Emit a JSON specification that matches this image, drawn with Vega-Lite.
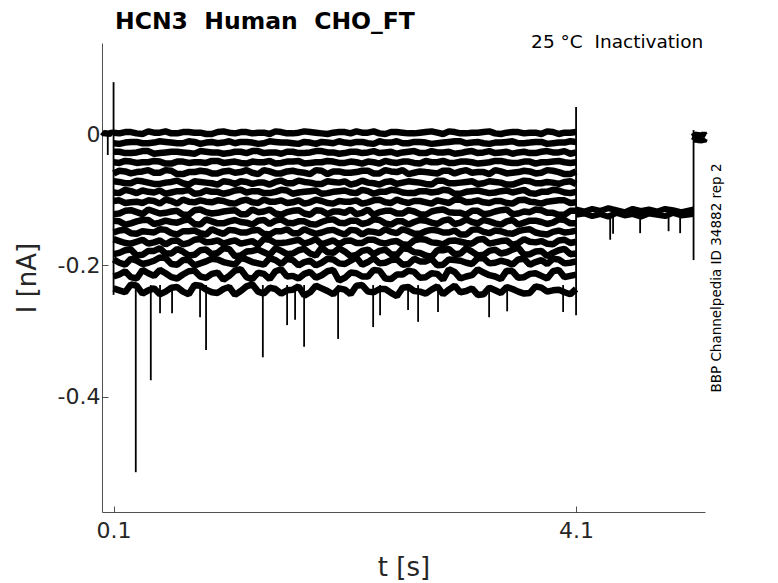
{
  "$schema": "https://vega.github.io/schema/vega-lite/v6.json",
  "width": 603,
  "height": 469,
  "autosize": {"type": "none"},
  "padding": {"left": 102, "top": 43, "right": 73, "bottom": 71},
  "background": "white",
  "title": {
    "text": "HCN3\u00a0\u00a0Human\u00a0\u00a0CHO_FT",
    "anchor": "start",
    "frame": "group",
    "dx": 13,
    "offset": -1,
    "font": "DejaVu Sans",
    "fontSize": 23.5,
    "fontWeight": "bold",
    "color": "#000000"
  },
  "datasets": {
    "tr": [
      {"t":0.1,"a":0.002,"b":-0.014,"c":-0.027,"d":-0.043,"e":-0.060,"f":-0.072,"g":-0.089,"h":-0.102,"i":-0.122,"j":-0.132,"k":-0.150,"l":-0.160,"m":-0.183,"n":-0.191,"o":-0.217,"p":-0.235},
      {"t":0.15,"a":0.001,"b":-0.015,"c":-0.027,"d":-0.044,"e":-0.056,"f":-0.073,"g":-0.090,"h":-0.101,"i":-0.121,"j":-0.133,"k":-0.147,"l":-0.163,"m":-0.181,"n":-0.196,"o":-0.214,"p":-0.238},
      {"t":0.2,"a":0.003,"b":-0.013,"c":-0.029,"d":-0.041,"e":-0.057,"f":-0.075,"g":-0.085,"h":-0.105,"i":-0.117,"j":-0.138,"k":-0.146,"l":-0.166,"m":-0.177,"n":-0.199,"o":-0.209,"p":-0.241},
      {"t":0.25,"a":0.003,"b":-0.012,"c":-0.029,"d":-0.042,"e":-0.060,"f":-0.075,"g":-0.087,"h":-0.104,"i":-0.116,"j":-0.136,"k":-0.151,"l":-0.167,"m":-0.176,"n":-0.190,"o":-0.218,"p":-0.229},
      {"t":0.3,"a":0.001,"b":-0.012,"c":-0.028,"d":-0.044,"e":-0.058,"f":-0.071,"g":-0.090,"h":-0.103,"i":-0.119,"j":-0.133,"k":-0.152,"l":-0.164,"m":-0.185,"n":-0.193,"o":-0.220,"p":-0.231},
      {"t":0.35,"a":0.000,"b":-0.014,"c":-0.026,"d":-0.043,"e":-0.057,"f":-0.072,"g":-0.086,"h":-0.105,"i":-0.122,"j":-0.131,"k":-0.148,"l":-0.161,"m":-0.184,"n":-0.198,"o":-0.207,"p":-0.243},
      {"t":0.4,"a":0.004,"b":-0.014,"c":-0.026,"d":-0.043,"e":-0.055,"f":-0.074,"g":-0.088,"h":-0.101,"i":-0.115,"j":-0.131,"k":-0.149,"l":-0.167,"m":-0.178,"n":-0.196,"o":-0.212,"p":-0.238},
      {"t":0.45,"a":0.002,"b":-0.013,"c":-0.030,"d":-0.041,"e":-0.059,"f":-0.076,"g":-0.089,"h":-0.102,"i":-0.118,"j":-0.137,"k":-0.150,"l":-0.165,"m":-0.178,"n":-0.193,"o":-0.216,"p":-0.235},
      {"t":0.5,"a":0.002,"b":-0.011,"c":-0.029,"d":-0.042,"e":-0.059,"f":-0.076,"g":-0.086,"h":-0.106,"i":-0.121,"j":-0.135,"k":-0.145,"l":-0.162,"m":-0.174,"n":-0.188,"o":-0.207,"p":-0.244},
      {"t":0.55,"a":0.004,"b":-0.012,"c":-0.028,"d":-0.045,"e":-0.055,"f":-0.074,"g":-0.091,"h":-0.100,"i":-0.120,"j":-0.132,"k":-0.146,"l":-0.168,"m":-0.182,"n":-0.189,"o":-0.212,"p":-0.240},
      {"t":0.6,"a":0.001,"b":-0.013,"c":-0.027,"d":-0.045,"e":-0.056,"f":-0.073,"g":-0.089,"h":-0.102,"i":-0.118,"j":-0.134,"k":-0.151,"l":-0.163,"m":-0.182,"n":-0.198,"o":-0.218,"p":-0.234},
      {"t":0.65,"a":0.001,"b":-0.014,"c":-0.027,"d":-0.042,"e":-0.061,"f":-0.071,"g":-0.087,"h":-0.106,"i":-0.117,"j":-0.135,"k":-0.153,"l":-0.162,"m":-0.175,"n":-0.199,"o":-0.220,"p":-0.233},
      {"t":0.7,"a":0.003,"b":-0.014,"c":-0.028,"d":-0.042,"e":-0.061,"f":-0.075,"g":-0.087,"h":-0.100,"i":-0.123,"j":-0.132,"k":-0.148,"l":-0.168,"m":-0.179,"n":-0.192,"o":-0.214,"p":-0.240},
      {"t":0.75,"a":0.003,"b":-0.011,"c":-0.029,"d":-0.044,"e":-0.058,"f":-0.077,"g":-0.085,"h":-0.103,"i":-0.123,"j":-0.130,"k":-0.148,"l":-0.166,"m":-0.185,"n":-0.192,"o":-0.209,"p":-0.244},
      {"t":0.8,"a":0.002,"b":-0.012,"c":-0.030,"d":-0.043,"e":-0.058,"f":-0.072,"g":-0.091,"h":-0.104,"i":-0.116,"j":-0.137,"k":-0.147,"l":-0.161,"m":-0.184,"n":-0.200,"o":-0.208,"p":-0.230},
      {"t":0.85,"a":0.002,"b":-0.015,"c":-0.026,"d":-0.043,"e":-0.056,"f":-0.073,"g":-0.090,"h":-0.101,"i":-0.115,"j":-0.138,"k":-0.151,"l":-0.160,"m":-0.177,"n":-0.197,"o":-0.217,"p":-0.231},
      {"t":0.9,"a":0.000,"b":-0.013,"c":-0.027,"d":-0.044,"e":-0.057,"f":-0.074,"g":-0.086,"h":-0.103,"i":-0.119,"j":-0.130,"k":-0.153,"l":-0.165,"m":-0.176,"n":-0.194,"o":-0.219,"p":-0.237},
      {"t":0.95,"a":0.000,"b":-0.012,"c":-0.028,"d":-0.041,"e":-0.060,"f":-0.075,"g":-0.088,"h":-0.104,"i":-0.121,"j":-0.133,"k":-0.145,"l":-0.164,"m":-0.183,"n":-0.190,"o":-0.213,"p":-0.241},
      {"t":1.0,"a":0.003,"b":-0.014,"c":-0.028,"d":-0.041,"e":-0.060,"f":-0.077,"g":-0.088,"h":-0.101,"i":-0.120,"j":-0.136,"k":-0.149,"l":-0.162,"m":-0.181,"n":-0.191,"o":-0.211,"p":-0.242},
      {"t":1.05,"a":0.004,"b":-0.013,"c":-0.030,"d":-0.044,"e":-0.057,"f":-0.072,"g":-0.091,"h":-0.102,"i":-0.118,"j":-0.136,"k":-0.152,"l":-0.167,"m":-0.174,"n":-0.195,"o":-0.222,"p":-0.236},
      {"t":1.1,"a":0.002,"b":-0.011,"c":-0.029,"d":-0.043,"e":-0.056,"f":-0.073,"g":-0.089,"h":-0.105,"i":-0.117,"j":-0.133,"k":-0.146,"l":-0.164,"m":-0.175,"n":-0.197,"o":-0.216,"p":-0.233},
      {"t":1.15,"a":0.001,"b":-0.014,"c":-0.027,"d":-0.042,"e":-0.059,"f":-0.076,"g":-0.086,"h":-0.106,"i":-0.116,"j":-0.131,"k":-0.147,"l":-0.162,"m":-0.186,"n":-0.199,"o":-0.208,"p":-0.245},
      {"t":1.2,"a":0.003,"b":-0.012,"c":-0.027,"d":-0.044,"e":-0.058,"f":-0.072,"g":-0.085,"h":-0.102,"i":-0.122,"j":-0.134,"k":-0.150,"l":-0.167,"m":-0.185,"n":-0.189,"o":-0.206,"p":-0.239},
      {"t":1.25,"a":0.003,"b":-0.012,"c":-0.029,"d":-0.045,"e":-0.055,"f":-0.073,"g":-0.089,"h":-0.100,"i":-0.122,"j":-0.135,"k":-0.150,"l":-0.165,"m":-0.179,"n":-0.191,"o":-0.218,"p":-0.232},
      {"t":1.3,"a":0.001,"b":-0.013,"c":-0.026,"d":-0.042,"e":-0.059,"f":-0.076,"g":-0.087,"h":-0.104,"i":-0.115,"j":-0.138,"k":-0.147,"l":-0.163,"m":-0.178,"n":-0.195,"o":-0.221,"p":-0.229},
      {"t":1.35,"a":0.002,"b":-0.015,"c":-0.026,"d":-0.043,"e":-0.061,"f":-0.074,"g":-0.087,"h":-0.105,"i":-0.119,"j":-0.132,"k":-0.146,"l":-0.169,"m":-0.176,"n":-0.197,"o":-0.211,"p":-0.240},
      {"t":1.4,"a":0.002,"b":-0.014,"c":-0.029,"d":-0.043,"e":-0.055,"f":-0.074,"g":-0.090,"h":-0.100,"i":-0.118,"j":-0.131,"k":-0.152,"l":-0.160,"m":-0.180,"n":-0.199,"o":-0.213,"p":-0.243},
      {"t":1.45,"a":0.000,"b":-0.011,"c":-0.028,"d":-0.041,"e":-0.057,"f":-0.077,"g":-0.090,"h":-0.103,"i":-0.115,"j":-0.137,"k":-0.153,"l":-0.161,"m":-0.184,"n":-0.189,"o":-0.221,"p":-0.234},
      {"t":1.5,"a":0.004,"b":-0.012,"c":-0.028,"d":-0.045,"e":-0.060,"f":-0.073,"g":-0.088,"h":-0.103,"i":-0.121,"j":-0.132,"k":-0.148,"l":-0.166,"m":-0.174,"n":-0.192,"o":-0.209,"p":-0.236},
      {"t":1.55,"a":0.003,"b":-0.013,"c":-0.030,"d":-0.044,"e":-0.060,"f":-0.071,"g":-0.085,"h":-0.101,"i":-0.123,"j":-0.130,"k":-0.148,"l":-0.166,"m":-0.178,"n":-0.198,"o":-0.206,"p":-0.243},
      {"t":1.6,"a":0.001,"b":-0.013,"c":-0.027,"d":-0.042,"e":-0.057,"f":-0.075,"g":-0.086,"h":-0.105,"i":-0.119,"j":-0.135,"k":-0.145,"l":-0.165,"m":-0.183,"n":-0.190,"o":-0.217,"p":-0.238},
      {"t":1.65,"a":0.001,"b":-0.014,"c":-0.027,"d":-0.042,"e":-0.056,"f":-0.075,"g":-0.091,"h":-0.104,"i":-0.117,"j":-0.136,"k":-0.151,"l":-0.163,"m":-0.182,"n":-0.192,"o":-0.216,"p":-0.237},
      {"t":1.7,"a":0.002,"b":-0.015,"c":-0.029,"d":-0.041,"e":-0.058,"f":-0.071,"g":-0.089,"h":-0.101,"i":-0.116,"j":-0.133,"k":-0.151,"l":-0.161,"m":-0.177,"n":-0.200,"o":-0.220,"p":-0.232},
      {"t":1.75,"a":0.004,"b":-0.012,"c":-0.029,"d":-0.045,"e":-0.059,"f":-0.073,"g":-0.088,"h":-0.106,"i":-0.121,"j":-0.133,"k":-0.145,"l":-0.167,"m":-0.175,"n":-0.195,"o":-0.213,"p":-0.246},
      {"t":1.8,"a":0.003,"b":-0.013,"c":-0.028,"d":-0.044,"e":-0.061,"f":-0.074,"g":-0.087,"h":-0.104,"i":-0.123,"j":-0.137,"k":-0.149,"l":-0.164,"m":-0.182,"n":-0.193,"o":-0.210,"p":-0.241},
      {"t":1.85,"a":0.002,"b":-0.015,"c":-0.026,"d":-0.043,"e":-0.055,"f":-0.076,"g":-0.086,"h":-0.100,"i":-0.116,"j":-0.138,"k":-0.152,"l":-0.160,"m":-0.185,"n":-0.200,"o":-0.219,"p":-0.231},
      {"t":1.9,"a":0.001,"b":-0.012,"c":-0.026,"d":-0.043,"e":-0.056,"f":-0.076,"g":-0.091,"h":-0.102,"i":-0.117,"j":-0.134,"k":-0.150,"l":-0.168,"m":-0.173,"n":-0.196,"o":-0.215,"p":-0.235},
      {"t":1.95,"a":0.000,"b":-0.013,"c":-0.028,"d":-0.041,"e":-0.061,"f":-0.072,"g":-0.090,"h":-0.105,"i":-0.122,"j":-0.131,"k":-0.147,"l":-0.165,"m":-0.180,"n":-0.190,"o":-0.209,"p":-0.239},
      {"t":2.0,"a":0.002,"b":-0.014,"c":-0.028,"d":-0.042,"e":-0.057,"f":-0.073,"g":-0.088,"h":-0.106,"i":-0.118,"j":-0.130,"k":-0.146,"l":-0.162,"m":-0.181,"n":-0.191,"o":-0.207,"p":-0.244},
      {"t":2.05,"a":0.003,"b":-0.011,"c":-0.030,"d":-0.044,"e":-0.057,"f":-0.074,"g":-0.087,"h":-0.102,"i":-0.118,"j":-0.135,"k":-0.150,"l":-0.168,"m":-0.174,"n":-0.197,"o":-0.223,"p":-0.235},
      {"t":2.1,"a":0.003,"b":-0.013,"c":-0.029,"d":-0.044,"e":-0.059,"f":-0.072,"g":-0.086,"h":-0.103,"i":-0.120,"j":-0.136,"k":-0.153,"l":-0.163,"m":-0.179,"n":-0.198,"o":-0.219,"p":-0.237},
      {"t":2.15,"a":0.001,"b":-0.014,"c":-0.027,"d":-0.042,"e":-0.059,"f":-0.077,"g":-0.089,"h":-0.103,"i":-0.115,"j":-0.132,"k":-0.146,"l":-0.162,"m":-0.186,"n":-0.193,"o":-0.211,"p":-0.244},
      {"t":2.2,"a":0.004,"b":-0.012,"c":-0.027,"d":-0.043,"e":-0.058,"f":-0.075,"g":-0.090,"h":-0.101,"i":-0.122,"j":-0.132,"k":-0.147,"l":-0.166,"m":-0.184,"n":-0.188,"o":-0.212,"p":-0.231},
      {"t":2.25,"a":0.002,"b":-0.012,"c":-0.029,"d":-0.045,"e":-0.056,"f":-0.071,"g":-0.085,"h":-0.106,"i":-0.120,"j":-0.137,"k":-0.153,"l":-0.166,"m":-0.178,"n":-0.199,"o":-0.217,"p":-0.230},
      {"t":2.3,"a":0.002,"b":-0.014,"c":-0.028,"d":-0.042,"e":-0.056,"f":-0.074,"g":-0.087,"h":-0.104,"i":-0.115,"j":-0.135,"k":-0.148,"l":-0.161,"m":-0.176,"n":-0.195,"o":-0.217,"p":-0.240},
      {"t":2.35,"a":0.004,"b":-0.015,"c":-0.026,"d":-0.043,"e":-0.060,"f":-0.075,"g":-0.091,"h":-0.101,"i":-0.123,"j":-0.130,"k":-0.149,"l":-0.161,"m":-0.183,"n":-0.189,"o":-0.207,"p":-0.241},
      {"t":2.4,"a":0.001,"b":-0.011,"c":-0.029,"d":-0.045,"e":-0.060,"f":-0.077,"g":-0.088,"h":-0.100,"i":-0.119,"j":-0.131,"k":-0.151,"l":-0.165,"m":-0.178,"n":-0.197,"o":-0.208,"p":-0.236},
      {"t":2.45,"a":0.000,"b":-0.013,"c":-0.028,"d":-0.041,"e":-0.055,"f":-0.073,"g":-0.088,"h":-0.104,"i":-0.117,"j":-0.136,"k":-0.145,"l":-0.167,"m":-0.176,"n":-0.196,"o":-0.220,"p":-0.236},
      {"t":2.5,"a":0.003,"b":-0.013,"c":-0.027,"d":-0.043,"e":-0.057,"f":-0.072,"g":-0.085,"h":-0.105,"i":-0.117,"j":-0.138,"k":-0.149,"l":-0.164,"m":-0.183,"n":-0.192,"o":-0.221,"p":-0.242},
      {"t":2.55,"a":0.003,"b":-0.011,"c":-0.030,"d":-0.044,"e":-0.058,"f":-0.076,"g":-0.086,"h":-0.100,"i":-0.121,"j":-0.133,"k":-0.151,"l":-0.163,"m":-0.184,"n":-0.191,"o":-0.214,"p":-0.247},
      {"t":2.6,"a":0.002,"b":-0.014,"c":-0.028,"d":-0.042,"e":-0.055,"f":-0.074,"g":-0.089,"h":-0.103,"i":-0.121,"j":-0.133,"k":-0.145,"l":-0.168,"m":-0.174,"n":-0.199,"o":-0.214,"p":-0.234},
      {"t":2.65,"a":0.001,"b":-0.014,"c":-0.027,"d":-0.042,"e":-0.061,"f":-0.072,"g":-0.090,"h":-0.105,"i":-0.116,"j":-0.138,"k":-0.148,"l":-0.169,"m":-0.175,"n":-0.198,"o":-0.208,"p":-0.233},
      {"t":2.7,"a":0.001,"b":-0.012,"c":-0.026,"d":-0.044,"e":-0.059,"f":-0.073,"g":-0.090,"h":-0.102,"i":-0.118,"j":-0.134,"k":-0.152,"l":-0.162,"m":-0.180,"n":-0.190,"o":-0.210,"p":-0.239},
      {"t":2.75,"a":0.002,"b":-0.012,"c":-0.029,"d":-0.045,"e":-0.057,"f":-0.074,"g":-0.087,"h":-0.102,"i":-0.122,"j":-0.131,"k":-0.152,"l":-0.160,"m":-0.181,"n":-0.194,"o":-0.219,"p":-0.240},
      {"t":2.8,"a":0.003,"b":-0.013,"c":-0.029,"d":-0.041,"e":-0.058,"f":-0.076,"g":-0.087,"h":-0.104,"i":-0.123,"j":-0.132,"k":-0.148,"l":-0.161,"m":-0.185,"n":-0.194,"o":-0.218,"p":-0.243},
      {"t":2.85,"a":0.004,"b":-0.015,"c":-0.026,"d":-0.043,"e":-0.059,"f":-0.077,"g":-0.089,"h":-0.106,"i":-0.118,"j":-0.135,"k":-0.146,"l":-0.165,"m":-0.187,"n":-0.190,"o":-0.212,"p":-0.237},
      {"t":2.9,"a":0.002,"b":-0.014,"c":-0.028,"d":-0.043,"e":-0.060,"f":-0.071,"g":-0.088,"h":-0.101,"i":-0.116,"j":-0.137,"k":-0.147,"l":-0.166,"m":-0.177,"n":-0.200,"o":-0.213,"p":-0.232},
      {"t":2.95,"a":0.000,"b":-0.013,"c":-0.028,"d":-0.041,"e":-0.056,"f":-0.071,"g":-0.085,"h":-0.103,"i":-0.115,"j":-0.132,"k":-0.150,"l":-0.168,"m":-0.177,"n":-0.199,"o":-0.222,"p":-0.244},
      {"t":3.0,"a":0.004,"b":-0.012,"c":-0.027,"d":-0.044,"e":-0.056,"f":-0.075,"g":-0.086,"h":-0.105,"i":-0.119,"j":-0.130,"k":-0.150,"l":-0.163,"m":-0.175,"n":-0.191,"o":-0.206,"p":-0.237},
      {"t":3.05,"a":0.003,"b":-0.011,"c":-0.030,"d":-0.044,"e":-0.060,"f":-0.075,"g":-0.091,"h":-0.100,"i":-0.120,"j":-0.137,"k":-0.147,"l":-0.162,"m":-0.183,"n":-0.192,"o":-0.210,"p":-0.231},
      {"t":3.1,"a":0.001,"b":-0.011,"c":-0.029,"d":-0.042,"e":-0.057,"f":-0.074,"g":-0.091,"h":-0.100,"i":-0.120,"j":-0.135,"k":-0.153,"l":-0.164,"m":-0.182,"n":-0.193,"o":-0.220,"p":-0.241},
      {"t":3.15,"a":0.001,"b":-0.014,"c":-0.027,"d":-0.042,"e":-0.055,"f":-0.073,"g":-0.088,"h":-0.104,"i":-0.123,"j":-0.130,"k":-0.153,"l":-0.166,"m":-0.174,"n":-0.196,"o":-0.217,"p":-0.239},
      {"t":3.2,"a":0.002,"b":-0.013,"c":-0.026,"d":-0.043,"e":-0.059,"f":-0.072,"g":-0.087,"h":-0.103,"i":-0.117,"j":-0.134,"k":-0.146,"l":-0.167,"m":-0.179,"n":-0.198,"o":-0.215,"p":-0.235},
      {"t":3.25,"a":0.002,"b":-0.012,"c":-0.029,"d":-0.045,"e":-0.058,"f":-0.076,"g":-0.086,"h":-0.101,"i":-0.117,"j":-0.136,"k":-0.145,"l":-0.161,"m":-0.185,"n":-0.189,"o":-0.206,"p":-0.245},
      {"t":3.3,"a":0.003,"b":-0.014,"c":-0.028,"d":-0.044,"e":-0.058,"f":-0.075,"g":-0.088,"h":-0.104,"i":-0.122,"j":-0.131,"k":-0.149,"l":-0.160,"m":-0.184,"n":-0.189,"o":-0.211,"p":-0.244},
      {"t":3.35,"a":0.004,"b":-0.015,"c":-0.026,"d":-0.043,"e":-0.061,"f":-0.072,"g":-0.090,"h":-0.105,"i":-0.121,"j":-0.133,"k":-0.151,"l":-0.167,"m":-0.178,"n":-0.197,"o":-0.215,"p":-0.234},
      {"t":3.4,"a":0.001,"b":-0.013,"c":-0.029,"d":-0.041,"e":-0.055,"f":-0.073,"g":-0.089,"h":-0.102,"i":-0.118,"j":-0.136,"k":-0.147,"l":-0.165,"m":-0.176,"n":-0.196,"o":-0.217,"p":-0.238},
      {"t":3.45,"a":0.000,"b":-0.013,"c":-0.028,"d":-0.041,"e":-0.057,"f":-0.074,"g":-0.087,"h":-0.102,"i":-0.116,"j":-0.138,"k":-0.148,"l":-0.163,"m":-0.182,"n":-0.193,"o":-0.221,"p":-0.242},
      {"t":3.5,"a":0.002,"b":-0.012,"c":-0.027,"d":-0.043,"e":-0.060,"f":-0.077,"g":-0.086,"h":-0.105,"i":-0.115,"j":-0.133,"k":-0.151,"l":-0.162,"m":-0.180,"n":-0.195,"o":-0.208,"p":-0.233},
      {"t":3.55,"a":0.003,"b":-0.011,"c":-0.030,"d":-0.044,"e":-0.059,"f":-0.077,"g":-0.089,"h":-0.106,"i":-0.122,"j":-0.131,"k":-0.152,"l":-0.169,"m":-0.176,"n":-0.199,"o":-0.209,"p":-0.236},
      {"t":3.6,"a":0.003,"b":-0.014,"c":-0.028,"d":-0.044,"e":-0.058,"f":-0.074,"g":-0.087,"h":-0.101,"i":-0.121,"j":-0.138,"k":-0.148,"l":-0.166,"m":-0.173,"n":-0.191,"o":-0.219,"p":-0.240},
      {"t":3.65,"a":0.001,"b":-0.014,"c":-0.027,"d":-0.042,"e":-0.056,"f":-0.071,"g":-0.085,"h":-0.100,"i":-0.118,"j":-0.135,"k":-0.146,"l":-0.160,"m":-0.184,"n":-0.190,"o":-0.218,"p":-0.243},
      {"t":3.7,"a":0.002,"b":-0.013,"c":-0.029,"d":-0.042,"e":-0.057,"f":-0.072,"g":-0.090,"h":-0.103,"i":-0.119,"j":-0.132,"k":-0.145,"l":-0.164,"m":-0.183,"n":-0.199,"o":-0.213,"p":-0.242},
      {"t":3.75,"a":0.002,"b":-0.012,"c":-0.029,"d":-0.045,"e":-0.060,"f":-0.075,"g":-0.091,"h":-0.104,"i":-0.115,"j":-0.132,"k":-0.150,"l":-0.165,"m":-0.179,"n":-0.195,"o":-0.212,"p":-0.232},
      {"t":3.8,"a":0.000,"b":-0.012,"c":-0.027,"d":-0.043,"e":-0.059,"f":-0.075,"g":-0.088,"h":-0.106,"i":-0.116,"j":-0.134,"k":-0.152,"l":-0.163,"m":-0.178,"n":-0.192,"o":-0.216,"p":-0.234},
      {"t":3.85,"a":0.004,"b":-0.015,"c":-0.026,"d":-0.043,"e":-0.055,"f":-0.073,"g":-0.088,"h":-0.103,"i":-0.120,"j":-0.137,"k":-0.153,"l":-0.167,"m":-0.186,"n":-0.198,"o":-0.220,"p":-0.240},
      {"t":3.9,"a":0.003,"b":-0.014,"c":-0.028,"d":-0.042,"e":-0.056,"f":-0.074,"g":-0.085,"h":-0.102,"i":-0.120,"j":-0.135,"k":-0.149,"l":-0.168,"m":-0.181,"n":-0.190,"o":-0.209,"p":-0.238},
      {"t":3.95,"a":0.000,"b":-0.013,"c":-0.028,"d":-0.041,"e":-0.058,"f":-0.076,"g":-0.086,"h":-0.101,"i":-0.123,"j":-0.130,"k":-0.147,"l":-0.162,"m":-0.177,"n":-0.191,"o":-0.207,"p":-0.237},
      {"t":4.0,"a":0.002,"b":-0.013,"c":-0.026,"d":-0.043,"e":-0.061,"f":-0.073,"g":-0.089,"h":-0.101,"i":-0.123,"j":-0.131,"k":-0.150,"l":-0.161,"m":-0.175,"n":-0.197,"o":-0.218,"p":-0.241},
      {"t":4.05,"a":0.002,"b":-0.011,"c":-0.030,"d":-0.044,"e":-0.061,"f":-0.072,"g":-0.090,"h":-0.105,"i":-0.117,"j":-0.136,"k":-0.149,"l":-0.166,"m":-0.183,"n":-0.196,"o":-0.216,"p":-0.244},
      {"t":4.1,"a":0.003,"b":-0.012,"c":-0.028,"d":-0.043,"e":-0.057,"f":-0.076,"g":-0.088,"h":-0.104,"i":-0.117,"j":-0.136,"k":-0.147,"l":-0.164,"m":-0.182,"n":-0.194,"o":-0.214,"p":-0.236}
    ],
    "hold": [
      {"s":"pre","t":0.0,"v":0.003},
      {"s":"pre","t":0.02,"v":0.0},
      {"s":"pre","t":0.04,"v":0.002},
      {"s":"pre","t":0.06,"v":-0.001},
      {"s":"pre","t":0.08,"v":0.003},
      {"s":"pre","t":0.1,"v":0.001},
      {"s":"p1","t":4.1,"v":-0.115},
      {"s":"p1","t":4.17,"v":-0.118},
      {"s":"p1","t":4.24,"v":-0.114},
      {"s":"p1","t":4.31,"v":-0.117},
      {"s":"p1","t":4.38,"v":-0.113},
      {"s":"p1","t":4.45,"v":-0.116},
      {"s":"p1","t":4.52,"v":-0.119},
      {"s":"p1","t":4.59,"v":-0.114},
      {"s":"p1","t":4.66,"v":-0.117},
      {"s":"p1","t":4.73,"v":-0.115},
      {"s":"p1","t":4.8,"v":-0.118},
      {"s":"p1","t":4.87,"v":-0.114},
      {"s":"p1","t":4.94,"v":-0.116},
      {"s":"p1","t":5.01,"v":-0.119},
      {"s":"p1","t":5.116,"v":-0.115},
      {"s":"p2","t":4.1,"v":-0.123},
      {"s":"p2","t":4.17,"v":-0.121},
      {"s":"p2","t":4.24,"v":-0.125},
      {"s":"p2","t":4.31,"v":-0.122},
      {"s":"p2","t":4.38,"v":-0.126},
      {"s":"p2","t":4.45,"v":-0.12},
      {"s":"p2","t":4.52,"v":-0.124},
      {"s":"p2","t":4.59,"v":-0.122},
      {"s":"p2","t":4.66,"v":-0.126},
      {"s":"p2","t":4.73,"v":-0.121},
      {"s":"p2","t":4.8,"v":-0.123},
      {"s":"p2","t":4.87,"v":-0.125},
      {"s":"p2","t":4.94,"v":-0.12},
      {"s":"p2","t":5.01,"v":-0.124},
      {"s":"p2","t":5.116,"v":-0.122},
      {"s":"e1","t":5.116,"v":0.002},
      {"s":"e1","t":5.13,"v":-0.003},
      {"s":"e1","t":5.145,"v":0.001},
      {"s":"e1","t":5.16,"v":-0.004},
      {"s":"e1","t":5.175,"v":0.0},
      {"s":"e1","t":5.19,"v":-0.003},
      {"s":"e1","t":5.205,"v":0.001},
      {"s":"e1","t":5.215,"v":-0.002},
      {"s":"e2","t":5.116,"v":-0.01},
      {"s":"e2","t":5.13,"v":-0.006},
      {"s":"e2","t":5.145,"v":-0.011},
      {"s":"e2","t":5.16,"v":-0.007},
      {"s":"e2","t":5.175,"v":-0.012},
      {"s":"e2","t":5.19,"v":-0.008},
      {"s":"e2","t":5.205,"v":-0.011},
      {"s":"e2","t":5.215,"v":-0.007}
    ],
    "spk": [
      {"t":0.1,"v":0.079,"v2":-0.245},
      {"t":4.1,"v":0.041,"v2":-0.276},
      {"t":5.116,"v":0.006,"v2":-0.192},
      {"t":0.05,"v":0.0,"v2":-0.032},
      {"t":0.292,"v":-0.23,"v2":-0.515},
      {"t":0.422,"v":-0.23,"v2":-0.375},
      {"t":0.502,"v":-0.23,"v2":-0.273},
      {"t":0.606,"v":-0.23,"v2":-0.273},
      {"t":0.848,"v":-0.23,"v2":-0.279},
      {"t":0.9,"v":-0.23,"v2":-0.329},
      {"t":1.391,"v":-0.23,"v2":-0.34},
      {"t":1.601,"v":-0.23,"v2":-0.291},
      {"t":1.67,"v":-0.23,"v2":-0.283},
      {"t":1.748,"v":-0.23,"v2":-0.324},
      {"t":2.042,"v":-0.23,"v2":-0.312},
      {"t":2.345,"v":-0.23,"v2":-0.294},
      {"t":2.405,"v":-0.23,"v2":-0.276},
      {"t":2.647,"v":-0.23,"v2":-0.268},
      {"t":2.734,"v":-0.23,"v2":-0.286},
      {"t":2.906,"v":-0.23,"v2":-0.271},
      {"t":3.348,"v":-0.23,"v2":-0.279},
      {"t":3.504,"v":-0.23,"v2":-0.27},
      {"t":3.988,"v":-0.23,"v2":-0.271},
      {"t":4.395,"v":-0.12,"v2":-0.161},
      {"t":4.42,"v":-0.12,"v2":-0.152},
      {"t":4.654,"v":-0.12,"v2":-0.151},
      {"t":4.9,"v":-0.12,"v2":-0.148},
      {"t":5.0,"v":-0.12,"v2":-0.151}
    ],
    "note": [
      {"t":5.2,"v":0.131,"label":"25 °C\u00a0\u00a0Inactivation"}
    ]
  },
  "layer": [
    {
      "data": {"name": "tr"},
      "transform": [
        {"fold": ["a","b","c","d","e","f","g","h","i","j","k","l","m","n","o","p"], "as": ["k","v"]}
      ],
      "mark": {"type": "line", "color": "#000000", "strokeWidth": 6.5, "strokeJoin": "bevel"},
      "encoding": {
        "x": {
          "field": "t",
          "type": "quantitative",
          "scale": {"domain": [0, 5.215], "nice": false, "zero": false},
          "axis": {"values": [0.1, 4.1], "format": ".1f", "title": "t [s]", "labelPadding": 14, "titlePadding": 13}
        },
        "y": {
          "field": "v",
          "type": "quantitative",
          "scale": {"domain": [-0.5756, 0.1386], "nice": false, "zero": false},
          "axis": {
            "values": [-0.4, -0.2, 0],
            "labelExpr": "datum.value == 0 ? '0' : replace(datum.label, '−', '-')",
            "title": "I [nA]",
            "titlePadding": 17
          }
        },
        "detail": {"field": "k"}
      }
    },
    {
      "data": {"name": "hold"},
      "mark": {"type": "line", "color": "#000000", "strokeWidth": 6, "strokeJoin": "bevel"},
      "encoding": {
        "x": {"field": "t", "type": "quantitative"},
        "y": {"field": "v", "type": "quantitative", "axis": null},
        "detail": {"field": "s"}
      }
    },
    {
      "data": {"name": "spk"},
      "mark": {"type": "rule", "color": "#000000", "strokeWidth": 1.8},
      "encoding": {
        "x": {"field": "t", "type": "quantitative"},
        "y": {"field": "v", "type": "quantitative", "axis": null},
        "y2": {"field": "v2"}
      }
    },
    {
      "data": {"name": "note"},
      "mark": {"type": "text", "align": "right", "baseline": "alphabetic", "font": "DejaVu Sans", "fontSize": 18.5, "color": "#000000"},
      "encoding": {
        "x": {"field": "t", "type": "quantitative"},
        "y": {
          "field": "v",
          "type": "quantitative",
          "axis": {
            "orient": "right",
            "title": "BBP Channelpedia ID 34882 rep 2",
            "labels": false,
            "ticks": false,
            "domain": false,
            "titleAngle": 270,
            "titleFontSize": 13.5,
            "titleColor": "#000000",
            "titlePadding": 18
          }
        },
        "text": {"field": "label"}
      }
    }
  ],
  "resolve": {"axis": {"y": "independent"}},
  "config": {
    "view": {"stroke": null},
    "axis": {
      "grid": false,
      "domainColor": "#262626",
      "domainWidth": 0.8,
      "tickColor": "#262626",
      "tickSize": -6,
      "tickWidth": 0.8,
      "labelFont": "DejaVu Sans",
      "labelFontSize": 22,
      "labelColor": "#262626",
      "labelPadding": 8,
      "titleFont": "DejaVu Sans",
      "titleFontSize": 26,
      "titleFontWeight": "normal",
      "titleColor": "#262626",
      "titlePadding": 6
    }
  }
}
